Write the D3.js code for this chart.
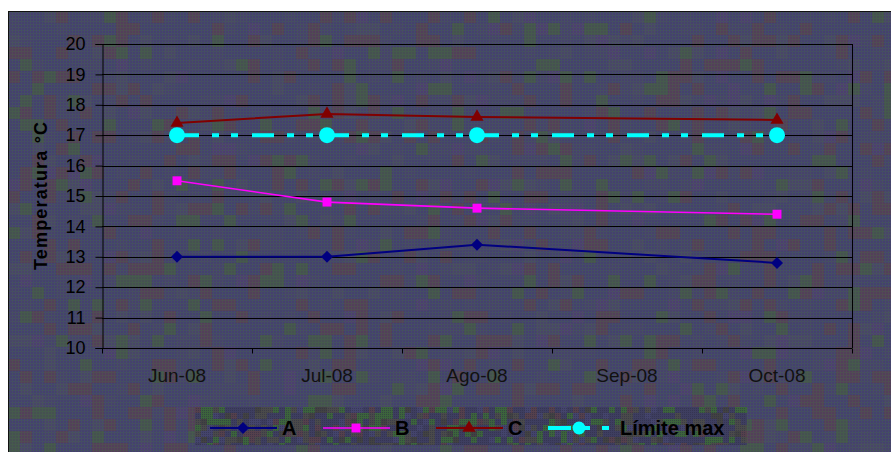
<!DOCTYPE html>
<html>
<head>
<meta charset="utf-8">
<script src="https://cdn.jsdelivr.net/npm/d3@7"></script>
<style>
  body { margin: 0; background: #fff; }
  svg { display: block; font-family: "Liberation Sans", Arial, sans-serif; }
</style>
</head>
<body>
<svg width="891" height="452"></svg>
<script>
var months = ["Jun-08", "Jul-08", "Ago-08", "Sep-08", "Oct-08"];
var serieA = [13.0, 13.0, 13.4, null, 12.8];
var serieB = [15.5, 14.8, 14.6, null, 14.4];
var serieC = [17.4, 17.7, 17.6, null, 17.5];
var limiteMax = [17, 17, 17, null, 17];
var yTicks = [10, 11, 12, 13, 14, 15, 16, 17, 18, 19, 20];

var series = [
  { name: "A", values: serieA, color: "#000080", width: 2, marker: "diamond", size: 72 },
  { name: "B", values: serieB, color: "#ff00ff", width: 1.6, marker: "square", size: 80 },
  { name: "C", values: serieC, color: "#800000", width: 2, marker: "triangle", size: 75 },
  { name: "Límite max", values: limiteMax, color: "#00ffff", width: 4, marker: "circle", size: 200, dash: "22,13,7,12,7,14" }
];

var svg = d3.select("svg"),
  width = +svg.attr("width"),
  height = +svg.attr("height");

var plot = { left: 102, top: 44, right: 852, bottom: 348 };

// little hash so the texture is the same every time
function hash(i, j, s) {
  var h = Math.sin(i * 127.1 + j * 311.7 + s * 74.7) * 43758.5453;
  return h - Math.floor(h);
}

var defs = svg.append("defs");
var dots = defs.append("pattern").attr("id", "dots")
  .attr("width", 3).attr("height", 3).attr("patternUnits", "userSpaceOnUse");
dots.append("rect").attr("x", 0).attr("y", 0).attr("width", 1).attr("height", 1).attr("fill", "#3f6a3c").attr("opacity", 0.6);
dots.append("rect").attr("x", 1.5).attr("y", 1.5).attr("width", 1).attr("height", 1).attr("fill", "#33334f").attr("opacity", 0.5);

var fine = defs.append("pattern").attr("id", "fine")
  .attr("width", 2).attr("height", 2).attr("patternUnits", "userSpaceOnUse");
fine.append("rect").attr("width", 1).attr("height", 1).attr("fill", "#2c2c44").attr("opacity", 0.5);

// chart area background with texture
var bg = svg.append("g");
var cell = 12;
var palette = ["#46466e", "#48476c", "#554459", "#4a4a68", "#475650", "#4e4470"];
var cells = [];
for (var i = 0; i * cell < width; i++) {
  for (var j = 0; j * cell < height; j++) {
    var r = hash(i, j, 1);
    var k = r < 0.45 ? 0 : r < 0.6 ? 1 : r < 0.78 ? 2 : r < 0.86 ? 3 : r < 0.95 ? 4 : 5;
    cells.push({ x: 8 + i * cell, y: 11 + j * cell, c: palette[k] });
  }
}
bg.selectAll("rect").data(cells).enter().append("rect")
  .attr("x", function(d) { return d.x; })
  .attr("y", function(d) { return d.y; })
  .attr("width", cell).attr("height", cell)
  .attr("fill", function(d) { return d.c; });
svg.append("rect").attr("x", 8).attr("y", 11).attr("width", width).attr("height", height)
  .attr("fill", "url(#dots)");
svg.append("rect").attr("x", 8.5).attr("y", 11.5).attr("width", width).attr("height", height)
  .attr("fill", "none").attr("stroke", "#111").attr("stroke-width", 1);

var x = d3.scaleBand().domain(months).range([plot.left, plot.right]);
var y = d3.scaleLinear().domain([10, 20]).range([plot.bottom, plot.top]);

// gridlines
svg.append("g").selectAll("line").data(yTicks).enter().append("line")
  .attr("x1", plot.left).attr("x2", plot.right)
  .attr("y1", function(d) { return Math.round(y(d)) + 0.5; })
  .attr("y2", function(d) { return Math.round(y(d)) + 0.5; })
  .attr("stroke", "#000").attr("stroke-width", 1);
svg.append("line").attr("x1", plot.right + 0.5).attr("x2", plot.right + 0.5)
  .attr("y1", plot.top).attr("y2", plot.bottom).attr("stroke", "#000");

// y axis
var yAxis = svg.append("g").attr("transform", "translate(" + (plot.left + 0.5) + ",0)")
  .call(d3.axisLeft(y).tickValues(yTicks).tickSize(7).tickPadding(10).tickFormat(d3.format("d")));
yAxis.selectAll("text").attr("font-size", 18).attr("fill", "#000").attr("font-family", "Liberation Sans, Arial, sans-serif");
yAxis.select(".domain").attr("stroke", "#000");

// x axis, ticks at category borders
var xAxis = svg.append("g").attr("transform", "translate(0," + (plot.bottom + 0.5) + ")");
xAxis.append("line").attr("x1", plot.left).attr("x2", plot.right).attr("stroke", "#000");
var borders = months.map(function(m) { return x(m); }).concat([plot.right]);
xAxis.selectAll(".tk").data(borders).enter().append("line")
  .attr("x1", function(d) { return Math.round(d) + 0.5; })
  .attr("x2", function(d) { return Math.round(d) + 0.5; })
  .attr("y1", 0).attr("y2", 5).attr("stroke", "#000");
xAxis.selectAll(".lb").data(months).enter().append("text")
  .attr("x", function(d) { return x(d) + x.bandwidth() / 2; })
  .attr("y", 33)
  .attr("text-anchor", "middle").attr("font-size", 19).attr("fill", "#111")
  .text(function(d) { return d; });

svg.append("text")
  .attr("transform", "translate(47,196) rotate(-90)")
  .attr("text-anchor", "middle").attr("font-size", 18).attr("font-weight", "bold")
  .attr("fill", "#000").attr("textLength", 148)
  .text("Temperatura °C");

var symbols = {
  diamond: d3.symbolSquare, square: d3.symbolSquare,
  triangle: d3.symbolTriangle, circle: d3.symbolCircle
};
function rot(s) { return s.marker === "diamond" ? " rotate(45)" : ""; }

var line = d3.line()
  .defined(function(d) { return d.v != null; })
  .x(function(d) { return x(d.m) + x.bandwidth() / 2; })
  .y(function(d) { return y(d.v); });

series.forEach(function(s) {
  var pts = months.map(function(m, i) { return { m: m, v: s.values[i] }; })
    .filter(function(d) { return d.v != null; });
  var g = svg.append("g");
  g.append("path").datum(pts)
    .attr("d", line).attr("fill", "none")
    .attr("stroke", s.color).attr("stroke-width", s.width)
    .attr("stroke-dasharray", s.dash || null);
  g.selectAll("path.mk").data(pts).enter().append("path").attr("class", "mk")
    .attr("transform", function(d) {
      return "translate(" + (x(d.m) + x.bandwidth() / 2) + "," + y(d.v) + ")" + rot(s);
    })
    .attr("d", d3.symbol().type(symbols[s.marker]).size(s.size))
    .attr("fill", s.color);
});

// legend
var legX = [210, 323, 436, 548];
var legY = 428;
var leg = svg.append("g");
var lcells = [];
var lpal = ["#3e3e60", "#4a4a4a", "#3c643c", "#44446c", "#55404c", "#424242"];
for (var a = 0; a * 6 < 550; a++) {
  for (var b = 0; b * 6 < 38; b++) {
    var q = hash(a, b, 7);
    var c = q < 0.35 ? 0 : q < 0.55 ? 1 : q < 0.75 ? 2 : q < 0.85 ? 3 : q < 0.93 ? 4 : 5;
    lcells.push({ x: 195 + a * 6, y: 407 + b * 6, c: lpal[c] });
  }
}
leg.selectAll("rect").data(lcells).enter().append("rect")
  .attr("x", function(d) { return d.x; }).attr("y", function(d) { return d.y; })
  .attr("width", 6).attr("height", function(d) { return Math.min(6, 445 - d.y); })
  .attr("fill", function(d) { return d.c; });
leg.append("rect").attr("x", 195).attr("y", 407).attr("width", 550).attr("height", 38)
  .attr("fill", "url(#fine)");

series.forEach(function(s, i) {
  var g = leg.append("g").attr("transform", "translate(" + legX[i] + "," + legY + ")");
  g.append("line").attr("x1", 0).attr("x2", 67).attr("y1", 0).attr("y2", 0)
    .attr("stroke", s.color).attr("stroke-width", s.width)
    .attr("stroke-dasharray", s.dash ? "23,12,7,12,7,14" : null);
  g.append("path").attr("transform", "translate(" + (s.marker === "circle" ? 31 : 33) + ",0)" + rot(s))
    .attr("d", d3.symbol().type(symbols[s.marker]).size(s.marker === "circle" ? 130 : s.size))
    .attr("fill", s.color);
  g.append("text").attr("x", 72).attr("y", 7)
    .attr("font-size", 20).attr("font-weight", "bold").attr("fill", "#000")
    .text(s.name);
});
</script>
</body>
</html>
